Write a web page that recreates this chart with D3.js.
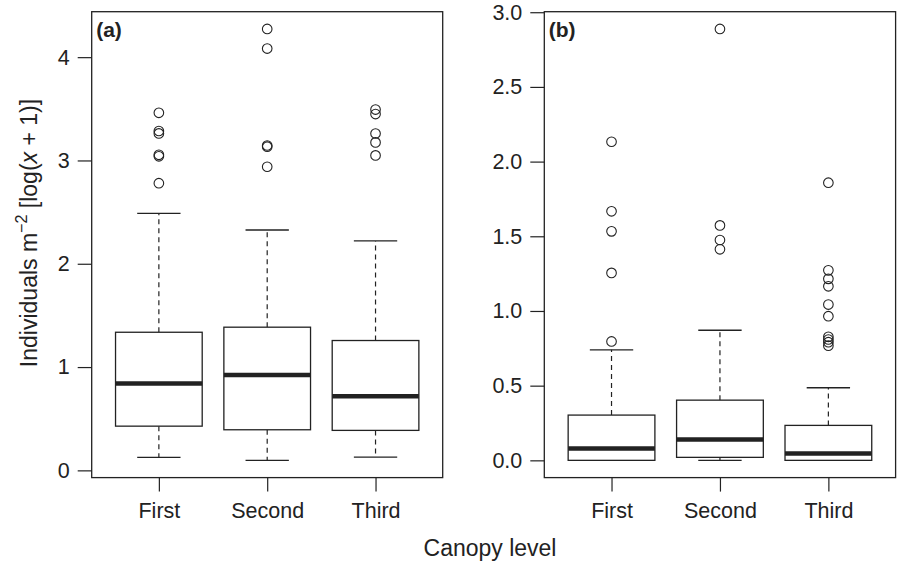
<!DOCTYPE html>
<html>
<head>
<meta charset="utf-8">
<script src="https://cdn.jsdelivr.net/npm/d3@7"></script>
<style>
  html, body { margin: 0; padding: 0; background: #fff; }
  svg { display: block; font-family: "Liberation Sans", Arial, Helvetica, sans-serif; }
</style>
</head>
<body>
<svg id="chart" width="898" height="561"></svg>
<script>
// ---- data ----
const categories = ["First", "Second", "Third"];

// panel (a)
const aLowerWhisker = [0.126, 0.097, 0.129];
const aQ1           = [0.428, 0.393, 0.387];
const aMedian       = [0.841, 0.922, 0.718];
const aQ3           = [1.337, 1.386, 1.257];
const aUpperWhisker = [2.488, 2.327, 2.221];
const aOutliers = [
  [3.461, 3.285, 3.262, 3.055, 3.040, 2.780],
  [4.273, 4.083, 3.145, 3.133, 2.939],
  [3.493, 3.449, 3.261, 3.175, 3.049]
];
const aTicks = [0, 1, 2, 3, 4];
const aTickLabels = ["0", "1", "2", "3", "4"];

// panel (b)
const bLowerWhisker = [0.000, 0.000, 0.000];
const bQ1           = [0.000, 0.020, 0.000];
const bMedian       = [0.080, 0.140, 0.045];
const bQ3           = [0.303, 0.403, 0.234];
const bUpperWhisker = [0.740, 0.871, 0.486];
const bOutliers = [
  [2.133, 1.667, 1.533, 1.255, 0.796],
  [2.888, 1.573, 1.475, 1.413],
  [1.859, 1.272, 1.215, 1.165, 1.043, 0.965, 0.827, 0.809, 0.791, 0.768]
];
const bTicks = [0, 0.5, 1, 1.5, 2, 2.5, 3];
const bTickLabels = ["0.0", "0.5", "1.0", "1.5", "2.0", "2.5", "3.0"];

const panelLabels = ["(a)", "(b)"];
const xTitle = "Canopy level";

// ---- drawing ----
const svg = d3.select("#chart");
svg.append("rect").attr("width", 898).attr("height", 561).attr("fill", "#fff");

const INK = "#222";
const FS = 21.5;
const TFS = 23;
const FONT = '"Liberation Sans", Arial, Helvetica, sans-serif';
const plotTop = 11.7, plotBottom = 477.6;

const panels = [
  { left: 91.7, right: 442.7, lw: aLowerWhisker, q1: aQ1, med: aMedian, q3: aQ3, uw: aUpperWhisker, out: aOutliers, ticks: aTicks, tickLabels: aTickLabels, label: panelLabels[0] },
  { left: 544.3, right: 895.6, lw: bLowerWhisker, q1: bQ1, med: bMedian, q3: bQ3, uw: bUpperWhisker, out: bOutliers, ticks: bTicks, tickLabels: bTickLabels, label: panelLabels[1] }
];

panels.forEach(p => {
  const g = svg.append("g");
  // y domain as R: data range extended 4%
  const all = [].concat(p.lw, p.uw, ...p.out);
  const lo = d3.min(all), hi = d3.max(all);
  const ext = (hi - lo) * 0.04;
  const y = d3.scaleLinear().domain([lo - ext, hi + ext]).range([plotBottom, plotTop]);
  const x = d3.scaleLinear().domain([0.38, 3.62]).range([p.left, p.right]);
  const pos = categories.map((c, i) => i + 1);

  // y axis ticks
  const yAxis = d3.axisLeft(y).tickValues(p.ticks)
    .tickFormat((d, i) => p.tickLabels[i]).tickSize(14).tickPadding(8);
  const ya = g.append("g").attr("transform", `translate(${p.left},0)`).call(yAxis);
  ya.select(".domain").remove();
  ya.selectAll("line").attr("stroke", INK).attr("stroke-width", 1.2);
  ya.selectAll("text").attr("fill", INK).attr("font-size", FS).attr("font-family", FONT);

  // x axis ticks
  const xAxis = d3.axisBottom(x).tickValues(pos)
    .tickFormat((d, i) => categories[i]).tickSize(14).tickPadding(11);
  const xa = g.append("g").attr("transform", `translate(0,${plotBottom})`).call(xAxis);
  xa.select(".domain").remove();
  xa.selectAll("line").attr("stroke", INK).attr("stroke-width", 1.2);
  xa.selectAll("text").attr("fill", INK).attr("font-size", FS).attr("font-family", FONT);

  const bw = (x(1.4) - x(1));     // half box width (0.4 units)
  const cw = (x(1.2) - x(1));     // half cap width (0.2 units)

  categories.forEach((c, i) => {
    const cx = x(pos[i]);
    const bg = g.append("g");
    // whiskers (dashed)
    bg.append("line").attr("x1", cx).attr("x2", cx)
      .attr("y1", y(p.q3[i])).attr("y2", y(p.uw[i]))
      .attr("stroke", INK).attr("stroke-width", 1.2).attr("stroke-dasharray", "5,4");
    bg.append("line").attr("x1", cx).attr("x2", cx)
      .attr("y1", y(p.q1[i])).attr("y2", y(p.lw[i]))
      .attr("stroke", INK).attr("stroke-width", 1.2).attr("stroke-dasharray", "5,4");
    // caps
    [p.uw[i], p.lw[i]].forEach(v => {
      bg.append("line").attr("x1", cx - cw).attr("x2", cx + cw)
        .attr("y1", y(v)).attr("y2", y(v))
        .attr("stroke", INK).attr("stroke-width", 1.3);
    });
    // box
    bg.append("rect")
      .attr("x", cx - bw).attr("width", 2 * bw)
      .attr("y", y(p.q3[i])).attr("height", y(p.q1[i]) - y(p.q3[i]))
      .attr("fill", "#fff").attr("stroke", INK).attr("stroke-width", 1.3);
    // median
    bg.append("line").attr("x1", cx - bw).attr("x2", cx + bw)
      .attr("y1", y(p.med[i])).attr("y2", y(p.med[i]))
      .attr("stroke", INK).attr("stroke-width", 4.5);
    // outliers
    bg.selectAll("circle.o").data(p.out[i]).enter().append("circle")
      .attr("class", "o")
      .attr("cx", cx).attr("cy", d => y(d)).attr("r", 4.8)
      .attr("fill", "none").attr("stroke", INK).attr("stroke-width", 1.1);
  });

  // frame
  g.append("rect")
    .attr("x", p.left).attr("y", plotTop)
    .attr("width", p.right - p.left).attr("height", plotBottom - plotTop)
    .attr("fill", "none").attr("stroke", INK).attr("stroke-width", 1.3);

  // panel label
  g.append("text").attr("x", p.left + 4.5).attr("y", 36.5)
    .attr("font-size", FS - 0.5).attr("font-weight", "bold").attr("fill", INK)
    .attr("font-family", FONT)
    .text(p.label);
});

// x axis title
svg.append("text").attr("x", 490).attr("y", 555.5)
  .attr("text-anchor", "middle").attr("font-size", TFS).attr("fill", INK)
  .attr("font-family", FONT)
  .text(xTitle);

// y axis title
const yt = svg.append("text")
  .attr("transform", "translate(37,233) rotate(-90)")
  .attr("text-anchor", "middle").attr("font-size", TFS).attr("fill", INK)
  .attr("font-family", FONT);
yt.append("tspan").text("Individuals m");
yt.append("tspan").attr("font-size", TFS * 0.7).attr("dy", -10).text("\u22122");
yt.append("tspan").attr("dy", 10).text(" [log(");
yt.append("tspan").attr("font-style", "italic").text("x");
yt.append("tspan").text(" + 1)]");
</script>
</body>
</html>
